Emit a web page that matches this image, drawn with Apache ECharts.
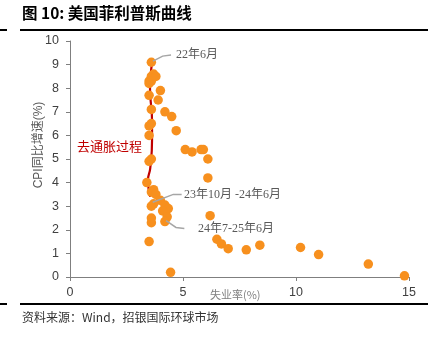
<!DOCTYPE html>
<html><head><meta charset="utf-8">
<script src="https://cdn.jsdelivr.net/npm/echarts@6/dist/echarts.min.js"></script>
<style>html,body{margin:0;padding:0;background:#fff;}#c{width:435px;height:342px;}</style>
</head><body><div id="c"></div>
<script>
// Unemployment rate (%) vs CPI YoY (%)
const unemployment = [3.6,3.6,3.7,3.5,3.6,3.8,3.5,4.0,3.5,3.9,3.6,4.2,4.5,3.5,3.6,4.7,3.5,5.1,5.4,5.8,5.9,6.1,3.6,3.5,6.1,3.4,3.7,3.6,3.8,4.0,3.7,3.6,4.2,4.35,4.1,4.3,4.2,3.6,3.6,6.2,6.5,6.7,7.0,3.5,7.8,8.4,10.2,11.0,13.2,14.8,4.45];
const cpi          = [9.1,8.5,8.6,8.3,8.3,8.5,8.2,7.9,7.7,7.5,7.1,7.0,6.8,6.4,6.5,6.2,6.0,5.4,5.3,5.4,5.4,5.0,5.0,4.9,4.2,4.0,3.7,3.6,3.5,3.25,3.1,3.0,3.05,2.9,2.8,2.55,2.35,2.5,2.3,2.6,1.6,1.4,1.2,1.5,1.15,1.35,1.25,0.95,0.55,0.05,0.2];
// hand-drawn disinflation path
const pathX = [3.55,3.45,3.55,3.63,3.63,3.54,3.63];
const pathY = [3.4,4.1,4.6,5.8,6.6,8.0,9.1];
const xTicks = [0,5,10,15];
const yTicks = [0,1,2,3,4,5,6,7,8,9,10];
const annoText = ['22年6月','23年10月 -24年6月','24年7-25年6月'];
const annoLineX = [[3.67,4.1,4.47],[3.66,4.57,4.94],[4.25,4.69,5.06]];
const annoLineY = [[9.15,9.36,9.41],[3.17,3.5,3.5],[2.39,2.1,2.06]];
const annoTextX = [4.69,5.04,5.66];
const annoTextY = [9.41,3.49,2.03];

const chart = echarts.init(document.getElementById('c'));
const axisCommon = {
  axisLine:{show:true,lineStyle:{color:'#7f7f7f',width:1}},
  axisTick:{show:true,inside:false,length:4,lineStyle:{color:'#7f7f7f'}},
  splitLine:{show:false},
  axisLabel:{color:'#404040',fontSize:12.5,fontFamily:'Liberation Sans, Arial'}
};
chart.setOption({
  animation:false,
  grid:{left:70,right:26,top:41,bottom:65,containLabel:false},
  xAxis:Object.assign({type:'value',min:xTicks[0],max:xTicks[xTicks.length-1],interval:5},axisCommon,{axisLabel:Object.assign({},axisCommon.axisLabel,{margin:9})}),
  yAxis:Object.assign({type:'value',min:yTicks[0],max:yTicks[yTicks.length-1],interval:1},axisCommon,{axisLabel:Object.assign({},axisCommon.axisLabel,{margin:11})}),
  series:[
    {type:'line',data:pathX.map((x,i)=>[x,pathY[i]]),smooth:true,showSymbol:false,symbol:'none',lineStyle:{color:'#c00000',width:2.2},z:2},
    {type:'scatter',data:unemployment.map((x,i)=>[x,cpi[i]]),symbolSize:9.5,itemStyle:{color:'#f7901e',opacity:1},z:3}
  ]
});
const g = [];
const P = (x,y)=>chart.convertToPixel({gridIndex:0},[x,y]);
annoText.forEach((t,i)=>{
  g.push({type:'polyline',shape:{points:annoLineX[i].map((x,j)=>P(x,annoLineY[i][j]))},style:{stroke:'#a6a6a6',lineWidth:1.5,fill:null},z:10});
  const p = P(annoTextX[i],annoTextY[i]);
  g.push({type:'text',x:p[0],y:p[1],style:{text:t,fill:'#595959',font:'12px "Liberation Serif", "Noto Sans CJK SC"',textVerticalAlign:'middle',textAlign:'left'},z:10});
});
const pr = P(0.31,5.55);
g.push({type:'text',x:pr[0],y:pr[1],style:{text:'去通胀过程',fill:'#c00000',font:'13px "Noto Sans CJK SC"',textVerticalAlign:'middle'},z:10});
// frame: title, rules, source
g.push({type:'text',left:22,top:5,style:{text:'图 10: 美国菲利普斯曲线',fill:'#000',font:'bold 15.5px "Noto Sans CJK SC"'}});
g.push({type:'rect',shape:{x:20,y:29,width:408,height:2},style:{fill:'#000'}});
g.push({type:'rect',shape:{x:0,y:29,width:7,height:2},style:{fill:'#000'}});
g.push({type:'rect',shape:{x:20,y:303,width:408,height:2},style:{fill:'#000'}});
g.push({type:'rect',shape:{x:0,y:303,width:7,height:2},style:{fill:'#000'}});
g.push({type:'text',left:22,top:311,style:{text:'资料来源：Wind，招银国际环球市场',fill:'#333',font:'12px "Noto Sans CJK SC"'}});
g.push({type:'text',x:210,y:295,style:{text:'失业率(%)',fill:'#7f7f7f',font:'11px "Noto Sans CJK SC"',textVerticalAlign:'middle'}});
g.push({type:'text',x:39,y:145,rotation:Math.PI/2,style:{text:'CPI同比增速(%)',fill:'#595959',font:'12px "Liberation Sans", "Noto Sans CJK SC"',textAlign:'center',textVerticalAlign:'middle'}});
chart.setOption({graphic:g});
</script></body></html>
